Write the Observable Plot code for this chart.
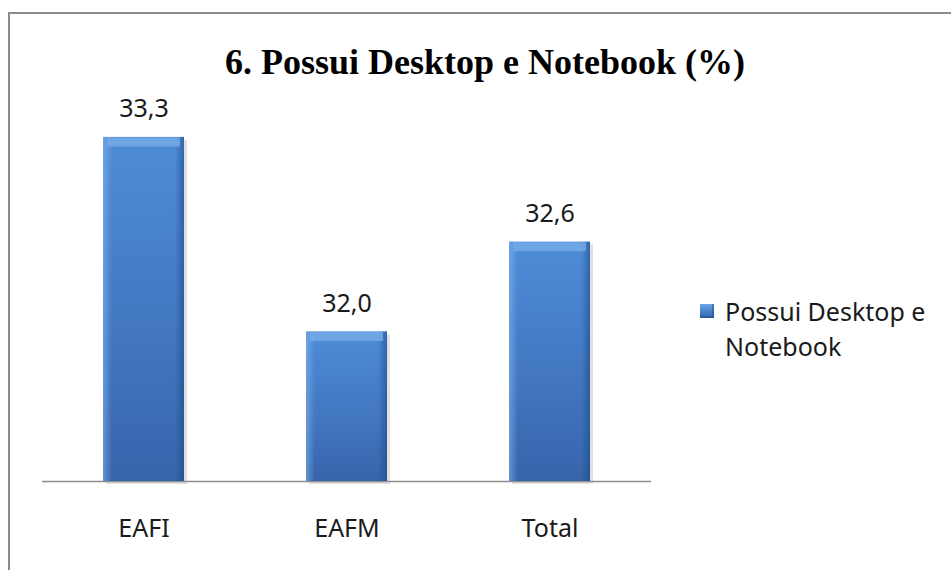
<!DOCTYPE html>
<html>
<head>
<meta charset="utf-8">
<script src="https://cdn.jsdelivr.net/npm/d3@7"></script>
<script src="https://cdn.jsdelivr.net/npm/@observablehq/plot@0.6"></script>
<style>
  html, body { margin: 0; padding: 0; background: #ffffff; }
  #wrap { position: relative; width: 951px; height: 570px; overflow: hidden; background: #fff; }
  #frame { position: absolute; left: 8px; top: 12px; width: 1200px; height: 800px;
           border-left: 2px solid #8c8c8c; border-top: 2px solid #8c8c8c; box-sizing: border-box; }
  #title { position: absolute; left: 0; top: 42px; width: 970px; text-align: center;
           font-family: "Liberation Serif", "DejaVu Serif", serif; font-weight: bold;
           font-size: 36px; line-height: 40px; color: #000; white-space: nowrap; }
  #chart { position: absolute; left: 0; top: 100px; }
  #legend { position: absolute; left: 700px; top: 294px; width: 230px;
            font-family: "Noto Sans", sans-serif; font-size: 25px; line-height: 35px; color: #1a1a1a; }
  #legend .sw { position: absolute; left: 0; top: 10px; width: 14px; height: 14px;
                background: linear-gradient(180deg, #6fa3e3 0%, #4a86d0 45%, #3566ad 100%);
                box-shadow: inset -2px -2px 0 rgba(20,60,120,0.35); }
  #legend .tx { margin-left: 25px; }
</style>
</head>
<body>
<div id="wrap">
  <div id="frame"></div>
  <div id="title">6. Possui Desktop e Notebook (%)</div>
  <div id="chart"></div>
  <div id="legend"><div class="sw"></div><div class="tx">Possui Desktop e Notebook</div></div>
</div>
<script>
const categories = ["EAFI", "EAFM", "Total"];
const values = [33.3, 32.0, 32.6];
const valueLabels = ["33,3", "32,0", "32,6"];
const seriesName = "Possui Desktop e Notebook";
const yDomain = [31, 33.5];

const data = categories.map((c, i) => ({category: c, value: values[i], label: valueLabels[i]}));

const svg = Plot.plot({
  width: 951,
  height: 470,
  marginLeft: 42,
  marginRight: 300,
  marginTop: 7,
  marginBottom: 89,
  style: {fontFamily: "Noto Sans", fontSize: "25px", color: "#1a1a1a", background: "transparent", overflow: "visible"},
  x: {domain: categories, paddingInner: 0.6, paddingOuter: 0.3, axis: null},
  y: {domain: yDomain, axis: null},
  marks: [
    Plot.barY(data, {x: "category", y1: yDomain[0], y2: "value", fill: "#000", fillOpacity: 0.12, dx: 3, dy: 3}),
    Plot.ruleY([yDomain[0]], {stroke: "#8c8c8c", strokeWidth: 1.5}),
    Plot.barY(data, {x: "category", y1: yDomain[0], y2: "value", fill: "url(#barFace)"}),
    Plot.barY(data, {x: "category", y1: yDomain[0], y2: "value", fill: "url(#barSides)"}),
    Plot.tickY(data, {x: "category", y: "value", stroke: "#7aaee8", strokeOpacity: 0.75, strokeWidth: 9, dy: 4.5, inset: 4}),
    Plot.text(data, {x: "category", y: "value", text: "label", dy: -28, lineAnchor: "middle", fontSize: 25, fill: "#1a1a1a"}),
    Plot.text(categories, {x: d => d, y: () => yDomain[0], text: d => d, dy: 47, lineAnchor: "middle", fontSize: 25, fill: "#1a1a1a"})
  ]
});

const ns = "http://www.w3.org/2000/svg";
const defs = document.createElementNS(ns, "defs");
defs.innerHTML = `
  <linearGradient id="barFace" x1="0" y1="0" x2="0" y2="1">
    <stop offset="0" stop-color="#4e8cd8"/>
    <stop offset="0.5" stop-color="#4479c4"/>
    <stop offset="1" stop-color="#3665ab"/>
  </linearGradient>
  <linearGradient id="barSides" x1="0" y1="0" x2="1" y2="0">
    <stop offset="0" stop-color="#8ab8ee" stop-opacity="0.55"/>
    <stop offset="0.11" stop-color="#8ab8ee" stop-opacity="0"/>
    <stop offset="0.89" stop-color="#1d4a88" stop-opacity="0"/>
    <stop offset="1" stop-color="#1d4a88" stop-opacity="0.6"/>
  </linearGradient>`;
svg.insertBefore(defs, svg.firstChild);
document.getElementById("chart").appendChild(svg);
</script>
</body>
</html>
